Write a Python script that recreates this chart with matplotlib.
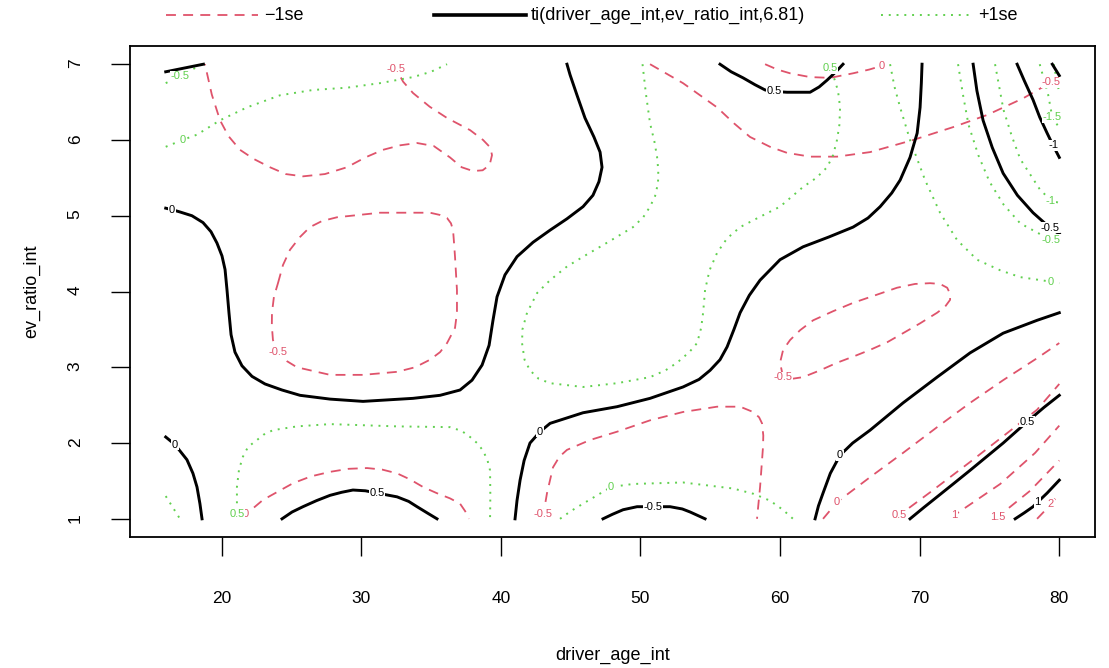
import matplotlib
matplotlib.use("Agg")
import matplotlib.pyplot as plt
from matplotlib.lines import Line2D

plt.rcParams["font.family"] = ["Liberation Sans Narrow", "Liberation Sans", "DejaVu Sans"]

# axis ranges / ticks (driver age vs ev ratio)
age_range = (16, 80)
ratio_range = (1, 7)
age_ticks = [20, 30, 40, 50, 60, 70, 80]
ratio_ticks = [1, 2, 3, 4, 5, 6, 7]
legend_labels = ["\u22121se", "ti(driver_age_int,ev_ratio_int,6.81)", "+1se"]

# ---- fitted surface contours, (age, ratio) ----
fit_m05_corner = [(16, 6.9), (18.7, 7.0)]
fit_0_left = [(16, 5.1), (16.45, 5.08), (17.02, 5.05), (17.88, 5.0), (18.67, 4.91), (19.24, 4.79),
              (19.67, 4.64), (20.03, 4.47), (20.25, 4.29), (20.39, 4.02), (20.53, 3.72), (20.68, 3.43),
              (20.96, 3.2), (21.46, 3.02), (22.18, 2.88), (23.11, 2.78), (24.33, 2.7), (25.62, 2.63),
              (27.77, 2.58), (30.13, 2.55), (33.71, 2.59), (35.65, 2.63), (37.08, 2.7), (37.94, 2.83),
              (38.66, 3.03), (39.16, 3.29), (39.44, 3.62), (39.73, 3.93), (40.3, 4.22), (41.16, 4.46),
              (42.31, 4.65), (43.53, 4.81), (44.74, 4.96), (45.89, 5.12), (46.6, 5.27), (47.03, 5.45),
              (47.25, 5.64), (47.11, 5.84), (46.67, 6.04), (46.03, 6.29), (45.46, 6.59), (44.96, 6.86),
              (44.74, 7.0)]
fit_0_mid = [(41.02, 1.0), (41.16, 1.24), (41.38, 1.51), (41.67, 1.77), (42.09, 2.0), (42.81, 2.15),
             (43.53, 2.26), (45.89, 2.4), (48.33, 2.48), (50.69, 2.59), (53.05, 2.74), (54.2, 2.84),
             (54.99, 2.96), (55.7, 3.1), (56.21, 3.27), (56.7, 3.5), (57.14, 3.72), (57.8, 3.95),
             (58.57, 4.15), (60.0, 4.42), (61.65, 4.59), (63.5, 4.72), (65.23, 4.85), (66.3, 4.97),
             (67.17, 5.12), (68.0, 5.3), (68.6, 5.47), (69.31, 5.77), (69.82, 6.09), (70.03, 6.43),
             (70.12, 6.75), (70.17, 7.0)]
fit_0_right = [(62.51, 1.0), (62.75, 1.17), (63.08, 1.34), (63.6, 1.6), (64.3, 1.84), (65.2, 2.0),
               (66.45, 2.17), (68.81, 2.53), (71.25, 2.87), (73.61, 3.19), (75.98, 3.45), (78.41, 3.62),
               (80, 3.72)]
fit_0_corner = [(16, 2.08), (16.66, 1.98), (17.52, 1.78), (17.95, 1.6), (18.24, 1.42), (18.45, 1.2),
                (18.6, 1.0)]
fit_05_dome = [(24.33, 1.0), (25.05, 1.09), (25.83, 1.16), (26.8, 1.24), (27.77, 1.31), (28.6, 1.35),
               (29.41, 1.38), (30.3, 1.37), (31.13, 1.34), (32.57, 1.29), (33.4, 1.23), (34.0, 1.16),
               (34.8, 1.07), (35.43, 1.0)]
fit_m05_dome = [(47.32, 1.0), (48.0, 1.06), (48.76, 1.12), (49.76, 1.16), (50.9, 1.16), (52.12, 1.16),
                (53.0, 1.13), (53.56, 1.09), (54.63, 1.0)]
fit_05_top = [(55.7, 7.0), (56.5, 6.9), (57.35, 6.82), (58.2, 6.73), (58.93, 6.66), (59.6, 6.64),
              (60.5, 6.63), (62.15, 6.63), (62.8, 6.7), (63.37, 6.79), (64.0, 6.9), (64.51, 7.0)]
fit_m05_right = [(73.83, 7.0), (74.1, 6.65), (74.54, 6.26), (75.2, 5.9), (75.98, 5.56), (77.0, 5.27),
                 (78.12, 5.04), (79.34, 4.84), (80, 4.76)]
fit_m1_right = [(76.98, 7.0), (77.5, 6.78), (78.12, 6.53), (78.6, 6.3), (79.13, 6.09), (79.55, 5.93),
                (80, 5.77)]
fit_m15_right = [(79.5, 7.0), (80, 6.85)]
fit_05_low = [(69.31, 1.0), (70.3, 1.15), (71.25, 1.29), (72.4, 1.46), (73.61, 1.64), (75.98, 2.0),
              (77.69, 2.28), (78.9, 2.47), (80, 2.63)]
fit_1_low = [(76.84, 1.0), (77.5, 1.08), (78.12, 1.16), (78.45, 1.22), (79.13, 1.34), (80, 1.51)]

# ---- fit - 1se ----
lo_m05_top = [(32.1, 7.0), (32.5, 6.94), (33.0, 6.77), (33.71, 6.62), (34.9, 6.44), (36.15, 6.29),
              (37.8, 6.13), (38.73, 6.0), (39.25, 5.9), (39.37, 5.8), (39.2, 5.67), (38.7, 5.6),
              (38.01, 5.59), (37.2, 5.64), (36.36, 5.77), (35.2, 5.92), (34.0, 5.96), (32.8, 5.93),
              (31.56, 5.87), (30.3, 5.77), (28.98, 5.64), (27.4, 5.55), (25.83, 5.52), (24.6, 5.55),
              (23.47, 5.64), (22.3, 5.75), (21.32, 5.87), (20.5, 6.05), (19.89, 6.26), (19.3, 6.6),
              (18.81, 7.0)]
lo_m05_loop = [(24.04, 4.11), (24.4, 4.35), (24.9, 4.55), (25.62, 4.72), (26.33, 4.85), (27.19, 4.93),
               (28.27, 4.98), (31.35, 5.04), (34.93, 5.04), (35.65, 5.01), (36.15, 4.97), (36.43, 4.9),
               (36.58, 4.81), (36.65, 4.64), (36.72, 4.46), (36.86, 4.02), (36.86, 3.72), (36.72, 3.52),
               (36.15, 3.32), (35.65, 3.2), (34.93, 3.1), (33.86, 3.0), (32.57, 2.94), (30.13, 2.9),
               (27.77, 2.9), (25.4, 3.0), (24.69, 3.08), (24.04, 3.2), (23.68, 3.36), (23.6, 3.55),
               (23.61, 3.72), (23.75, 3.93), (24.04, 4.11)]
lo_0_dome = [(21.4, 1.0), (21.75, 1.06), (22.97, 1.25), (25.12, 1.47), (26.4, 1.56), (27.77, 1.62),
             (29.1, 1.66), (30.42, 1.67), (31.5, 1.65), (32.57, 1.6), (33.5, 1.52), (34.43, 1.42),
             (35.4, 1.34), (36.36, 1.27), (37.08, 1.2), (37.45, 1.1), (37.72, 1.0)]
lo_m05_dome = [(43.0, 1.0), (43.05, 1.06), (43.31, 1.34), (43.74, 1.68), (44.2, 1.82), (44.74, 1.91),
               (46.39, 2.04), (48.33, 2.15), (50.69, 2.3), (53.05, 2.41), (55.49, 2.48), (57.14, 2.48),
               (58.07, 2.41), (58.5, 2.34), (58.71, 2.26), (58.8, 2.1), (58.78, 1.95), (58.57, 1.42),
               (58.35, 1.0)]
lo_m05_ring = [(60.22, 2.87), (60.0, 3.06), (60.22, 3.23), (60.72, 3.36), (61.44, 3.49), (62.37, 3.62),
               (63.8, 3.74), (65.23, 3.85), (66.81, 3.95), (68.38, 4.05), (69.67, 4.1), (70.75, 4.11),
               (71.46, 4.1), (71.97, 4.05), (72.18, 3.97), (72.18, 3.89), (71.82, 3.8), (71.25, 3.72),
               (70.03, 3.58), (68.81, 3.45), (67.67, 3.33), (66.45, 3.23), (65.23, 3.14), (64.08, 3.06),
               (62.87, 2.96), (61.65, 2.87), (60.93, 2.85), (60.5, 2.85), (60.22, 2.87)]
lo_m05_upper = [(50.69, 7.0), (53.05, 6.75), (55.49, 6.43), (56.7, 6.22), (57.85, 6.04), (59.28, 5.91),
                (60.5, 5.83), (62.15, 5.78), (64.08, 5.78), (66.45, 5.84), (69.53, 6.0), (72.4, 6.17),
                (74.83, 6.33), (77.41, 6.55), (79.4, 6.76), (80, 6.83)]
lo_0_top = [(58.93, 7.0), (59.8, 6.93), (60.72, 6.88), (62.15, 6.83), (63.58, 6.82), (65.23, 6.88),
            (66.4, 6.93), (67.3, 6.98), (67.52, 7.0)]
lo_0_low = [(63.08, 1.0), (64.08, 1.22), (66.45, 1.55), (68.81, 1.87), (71.25, 2.21), (73.61, 2.53),
            (75.98, 2.83), (78.41, 3.12), (80, 3.32)]
lo_05_low = [(68.3, 1.0), (68.55, 1.05), (70.75, 1.35), (73.61, 1.75), (75.98, 2.09), (78.41, 2.44),
             (80, 2.78)]
lo_1_low = [(72.3, 1.0), (72.5, 1.05), (75.77, 1.46), (78.27, 1.87), (80, 2.23)]
lo_15_low = [(75.45, 1.0), (75.62, 1.03), (77.91, 1.37), (80, 1.77)]
lo_2_low = [(78.41, 1.0), (79.4, 1.19), (80, 1.34)]

# ---- fit + 1se ----
up_0_top = [(16, 5.91), (17.2, 6.0), (18.24, 6.07), (19.89, 6.26), (21.82, 6.43), (24.19, 6.59),
            (26.55, 6.66), (28.98, 6.69), (31.35, 6.75), (33.71, 6.83), (35.0, 6.9), (36.15, 7.0)]
up_m05_corner = [(16, 6.75), (17.0, 6.84), (18.6, 7.0)]
up_05_dome = [(21.1, 1.0), (21.1, 1.06), (21.1, 1.42), (21.25, 1.65), (21.53, 1.82), (21.9, 1.95),
              (22.54, 2.04), (23.0, 2.11), (23.68, 2.17), (25.4, 2.22), (27.77, 2.25), (32.57, 2.22),
              (36.36, 2.21), (37.2, 2.16), (37.8, 2.08), (38.3, 2.0), (38.73, 1.9), (39.05, 1.77),
              (39.23, 1.64), (39.25, 1.3), (39.23, 1.0)]
up_0_corner = [(16, 1.3), (17.02, 1.0)]
up_05_mid = [(50.15, 7.0), (50.4, 6.6), (50.69, 6.22), (51.0, 5.98), (51.19, 5.78), (51.28, 5.6),
             (51.26, 5.43), (51.05, 5.26), (50.69, 5.12), (50.2, 4.98), (49.47, 4.85), (48.3, 4.72),
             (47.11, 4.59), (45.9, 4.46), (44.74, 4.33), (43.53, 4.15), (42.6, 3.98), (41.88, 3.72),
             (41.55, 3.5), (41.52, 3.32), (41.7, 3.1), (42.09, 2.96), (42.7, 2.85), (43.53, 2.79),
             (45.89, 2.74), (48.33, 2.79), (50.69, 2.87), (51.8, 2.96), (52.62, 3.06), (53.5, 3.2),
             (54.06, 3.32), (54.35, 3.52), (54.49, 3.72), (54.63, 4.02), (54.95, 4.28), (55.49, 4.51),
             (56.2, 4.7), (57.14, 4.85), (58.5, 4.98), (60.0, 5.12), (61.65, 5.38), (62.6, 5.5),
             (63.37, 5.64), (63.8, 5.8), (64.08, 6.0), (64.25, 6.2), (64.3, 6.43), (64.15, 6.65),
             (63.9, 6.8), (63.6, 6.95), (63.5, 7.0)]
up_0_right = [(67.88, 7.0), (68.2, 6.7), (68.6, 6.43), (69.31, 6.0), (70.39, 5.47), (71.46, 5.04),
              (72.68, 4.68), (74.11, 4.42), (75.77, 4.28), (77.2, 4.19), (79.4, 4.13), (80, 4.11)]
up_m05_right = [(72.75, 7.0), (73.1, 6.6), (73.5, 6.2), (74.2, 5.8), (75.0, 5.45), (76.0, 5.15),
                (77.2, 4.9), (79.4, 4.68), (80, 4.64)]
up_m1_right = [(75.4, 7.0), (75.7, 6.7), (76.0, 6.4), (76.6, 6.05), (77.2, 5.75), (78.6, 5.35),
               (79.4, 5.2), (80, 5.17)]
up_m15_right = [(78.6, 7.0), (79.2, 6.6), (79.5, 6.3), (80, 6.16)]
up_m2_right = [(79.6, 7.0), (80, 6.62)]
up_0_low = [(44.24, 1.0), (45.0, 1.1), (45.89, 1.2), (47.9, 1.42), (49.47, 1.46), (53.05, 1.48),
            (56.64, 1.4), (58.1, 1.33), (59.28, 1.24), (60.2, 1.12), (60.93, 1.0)]

# (level text, vertex that carries the label or None, points)
fit_curves = [("-0.5", None, fit_m05_corner), ("0", 1, fit_0_left), ("0", 5, fit_0_mid),
              ("0", 4, fit_0_right), ("0", 1, fit_0_corner), ("0.5", 8, fit_05_dome),
              ("-0.5", 4, fit_m05_dome), ("0.5", 5, fit_05_top), ("-0.5", 7, fit_m05_right),
              ("-1", 5, fit_m1_right), ("-1.5", None, fit_m15_right), ("0.5", 6, fit_05_low),
              ("1", 3, fit_1_low)]
lower_curves = [("-0.5", 1, lo_m05_top), ("-0.5", 27, lo_m05_loop), ("0", 1, lo_0_dome),
                ("-0.5", 1, lo_m05_dome), ("-0.5", 0, lo_m05_ring), ("-0.5", 14, lo_m05_upper),
                ("0", 7, lo_0_top), ("0", 1, lo_0_low), ("0.5", 1, lo_05_low), ("1", 1, lo_1_low),
                ("1.5", 1, lo_15_low), ("2", 1, lo_2_low)]
upper_curves = [("0", 1, up_0_top), ("-0.5", 1, up_m05_corner), ("0.5", 1, up_05_dome),
                ("1", None, up_0_corner), ("0.5", 49, up_05_mid), ("0", 10, up_0_right),
                ("-0.5", 7, up_m05_right), ("-1", 6, up_m1_right), ("-1.5", 2, up_m15_right),
                ("-2", None, up_m2_right), ("0", 3, up_0_low)]

RED = "#DF536B"
GREEN = "#61D04F"

fig = plt.figure(figsize=(11.09, 6.68), dpi=100)
ax = fig.add_axes([0.1172, 0.1961, 0.8702, 0.735])


def draw(curves, color, **style):
    for text, k, pts in curves:
        xs = [p[0] for p in pts]
        ys = [p[1] for p in pts]
        ax.plot(xs, ys, color=color, solid_joinstyle="round", dash_joinstyle="round", **style)
        if k is not None:
            ax.text(xs[k], ys[k], text, color=color, fontsize=8, family=["Liberation Sans", "DejaVu Sans"],
                    ha="center", va="center", zorder=6,
                    bbox=dict(facecolor="white", edgecolor="none", pad=0.4))


draw(fit_curves, "black", lw=2.1, zorder=4)
draw(lower_curves, RED, lw=1.3, linestyle=(0, (5.5, 4)), zorder=3)
draw(upper_curves, GREEN, lw=1.4, linestyle=(0, (1, 3)), zorder=3)

pad_x = 0.04 * (age_range[1] - age_range[0])
pad_y = 0.04 * (ratio_range[1] - ratio_range[0])
ax.set_xlim(age_range[0] - pad_x, age_range[1] + pad_x)
ax.set_ylim(ratio_range[0] - pad_y, ratio_range[1] + pad_y)
ax.set_xticks(age_ticks)
ax.set_yticks(ratio_ticks)
ax.tick_params(direction="out", length=14, width=1.0, labelsize=12.5, pad=20)
ax.tick_params(axis="x", pad=25)
ax.tick_params(axis="y", labelrotation=90)
for s in ax.spines.values():
    s.set_linewidth(1.3)
ax.set_xlabel("driver_age_int", fontsize=13, labelpad=29)
ax.set_ylabel("ev_ratio_int", fontsize=13, labelpad=20)

# legend across the top, R style
ly = 1 - 15 / 668
handles = [(RED, dict(lw=1.3, linestyle=(0, (5.5, 4)))),
           ("black", dict(lw=2.6)),
           (GREEN, dict(lw=1.4, linestyle=(0, (1, 3))))]
starts = [0.150, 0.391, 0.794]
for (col, st), x0, lab in zip(handles, starts, legend_labels):
    fig.add_artist(Line2D([x0, x0 + 0.083], [ly, ly], transform=fig.transFigure, color=col, **st))
    fig.text(x0 + 0.088, ly, lab, fontsize=13, ha="left", va="center")

fig.savefig("out.png", dpi=100)
